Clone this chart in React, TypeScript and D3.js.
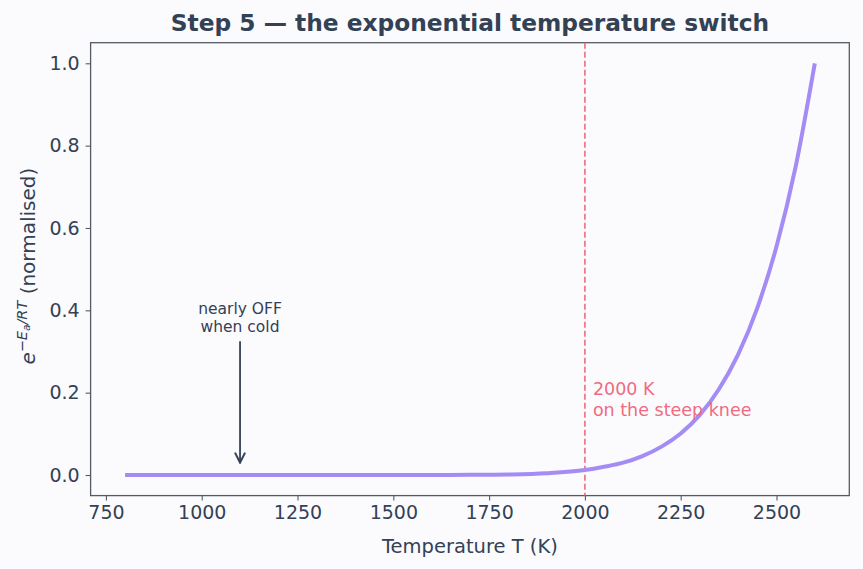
import React, { useEffect, useRef } from 'react'
import * as d3 from 'd3'

// curve samples (normalised to the 2600 K value)
const temps = [800, 900, 1000, 1100, 1200, 1300, 1400, 1500, 1600, 1700, 1800, 1900, 2000, 2050, 2100, 2150, 2200, 2250, 2300, 2350, 2400, 2450, 2500, 2550, 2600]
const rates = [0, 0, 0, 0, 0, 0, 0, 0.00002, 0.0001, 0.0004, 0.0014, 0.0044, 0.012, 0.02, 0.03, 0.046, 0.069, 0.101, 0.146, 0.209, 0.293, 0.406, 0.555, 0.749, 1.0]
const xTicks = [750, 1000, 1250, 1500, 1750, 2000, 2250, 2500]
const yTicks = [0, 0.2, 0.4, 0.6, 0.8, 1.0]
const markerT = 2000
const arrowT = 1100

const App = () => {
  const svgRef = useRef<SVGSVGElement>(null)

  useEffect(() => {
    document.body.style.margin = '0'
    document.body.style.background = '#fbfbfe'

    const W = 863
    const H = 569
    const frame = { left: 90.6, right: 849.3, top: 42.7, bottom: 495.6 }
    const ink = '#334155'
    const spine = '#555b66'
    const font = 'DejaVu Sans, sans-serif'

    const svg = d3.select(svgRef.current).attr('width', W).attr('height', H)
    svg.selectAll('*').remove()
    svg.append('rect').attr('width', W).attr('height', H).attr('fill', '#fbfbfe')

    // scales with matplotlib style 5% margins
    const xScale = d3.scaleLinear().domain([710, 2690]).range([frame.left, frame.right])
    const yScale = d3.scaleLinear().domain([-0.05, 1.05]).range([frame.bottom, frame.top])

    // axes
    const xAxis = svg
      .append('g')
      .attr('transform', `translate(0, ${frame.bottom})`)
      .call(d3.axisBottom(xScale).tickValues(xTicks).tickSize(5).tickPadding(5).tickFormat(d3.format('d')))
    const yAxis = svg
      .append('g')
      .attr('transform', `translate(${frame.left}, 0)`)
      .call(d3.axisLeft(yScale).tickValues(yTicks).tickSize(5).tickPadding(6).tickFormat(d3.format('.1f')))

    ;[xAxis, yAxis].forEach((ax) => {
      ax.select('.domain').remove()
      ax.selectAll('line').attr('stroke', spine).attr('stroke-width', 1.1)
      ax.selectAll('text').attr('fill', ink).style('font-family', font).style('font-size', '19px')
    })

    // frame
    svg
      .append('rect')
      .attr('x', frame.left)
      .attr('y', frame.top)
      .attr('width', frame.right - frame.left)
      .attr('height', frame.bottom - frame.top)
      .attr('fill', 'none')
      .attr('stroke', spine)
      .attr('stroke-width', 1.3)

    // dashed marker line at 2000 K
    svg
      .append('line')
      .attr('x1', xScale(markerT))
      .attr('x2', xScale(markerT))
      .attr('y1', frame.top)
      .attr('y2', frame.bottom)
      .attr('stroke', '#f06b7f')
      .attr('stroke-width', 1.6)
      .attr('stroke-dasharray', '6,3')

    // the curve
    const line = d3
      .line<number>()
      .x((d, i) => xScale(temps[i]))
      .y((d) => yScale(d))
      .curve(d3.curveMonotoneX)
    svg
      .append('path')
      .attr('d', line(rates))
      .attr('fill', 'none')
      .attr('stroke', '#a48cf4')
      .attr('stroke-width', 4)

    // marker label
    const mk = svg
      .append('text')
      .attr('fill', '#f06b7f')
      .style('font-family', font)
      .style('font-size', '17.5px')
    mk.append('tspan').attr('x', xScale(markerT) + 8).attr('y', yScale(0.2) + 2).text('2000 K')
    mk.append('tspan').attr('x', xScale(markerT) + 8).attr('dy', 21).text('on the steep knee')

    // "nearly OFF" annotation with arrow
    svg
      .append('defs')
      .append('marker')
      .attr('id', 'arrowhead')
      .attr('viewBox', '0 0 10 10')
      .attr('refX', 9)
      .attr('refY', 5)
      .attr('markerWidth', 7)
      .attr('markerHeight', 7)
      .attr('orient', 'auto')
      .append('path')
      .attr('d', 'M1,1 L9,5 L1,9')
      .attr('fill', 'none')
      .attr('stroke', ink)
      .attr('stroke-width', 1.6)
    svg
      .append('line')
      .attr('x1', xScale(arrowT))
      .attr('x2', xScale(arrowT))
      .attr('y1', yScale(0.325))
      .attr('y2', yScale(0.03))
      .attr('stroke', ink)
      .attr('stroke-width', 1.8)
      .attr('marker-end', 'url(#arrowhead)')
    const note = svg
      .append('text')
      .attr('fill', ink)
      .attr('text-anchor', 'middle')
      .style('font-family', font)
      .style('font-size', '15.5px')
    note.append('tspan').attr('x', xScale(arrowT)).attr('y', yScale(0.4) + 4).text('nearly OFF')
    note.append('tspan').attr('x', xScale(arrowT)).attr('dy', 18).text('when cold')

    // title
    svg
      .append('text')
      .text('Step 5 — the exponential temperature switch')
      .attr('x', (frame.left + frame.right) / 2)
      .attr('y', 31)
      .attr('text-anchor', 'middle')
      .attr('fill', ink)
      .style('font-family', font)
      .style('font-size', '23.3px')
      .style('font-weight', 'bold')

    // x axis label
    svg
      .append('text')
      .text('Temperature T (K)')
      .attr('x', (frame.left + frame.right) / 2)
      .attr('y', 553)
      .attr('text-anchor', 'middle')
      .attr('fill', ink)
      .style('font-family', font)
      .style('font-size', '19.5px')

    // y axis label with the math
    const yl = svg
      .append('text')
      .attr('transform', `translate(35, ${(frame.top + frame.bottom) / 2 - 3}) rotate(-90)`)
      .attr('text-anchor', 'middle')
      .attr('fill', ink)
      .style('font-family', font)
      .style('font-size', '20px')
    yl.append('tspan').style('font-style', 'italic').text('e')
    yl.append('tspan').attr('dy', -8).style('font-size', '14.5px').text('−')
    yl.append('tspan').style('font-size', '14.5px').style('font-style', 'italic').text('E')
    yl.append('tspan').attr('dy', 3).style('font-size', '10.5px').style('font-style', 'italic').text('a')
    yl.append('tspan').attr('dy', -3).style('font-size', '14.5px').style('font-style', 'italic').text('/RT')
    yl.append('tspan').attr('dy', 8).text(' (normalised)')
  }, [])

  return <svg ref={svgRef} style={{ display: 'block' }}></svg>
}

export default App
